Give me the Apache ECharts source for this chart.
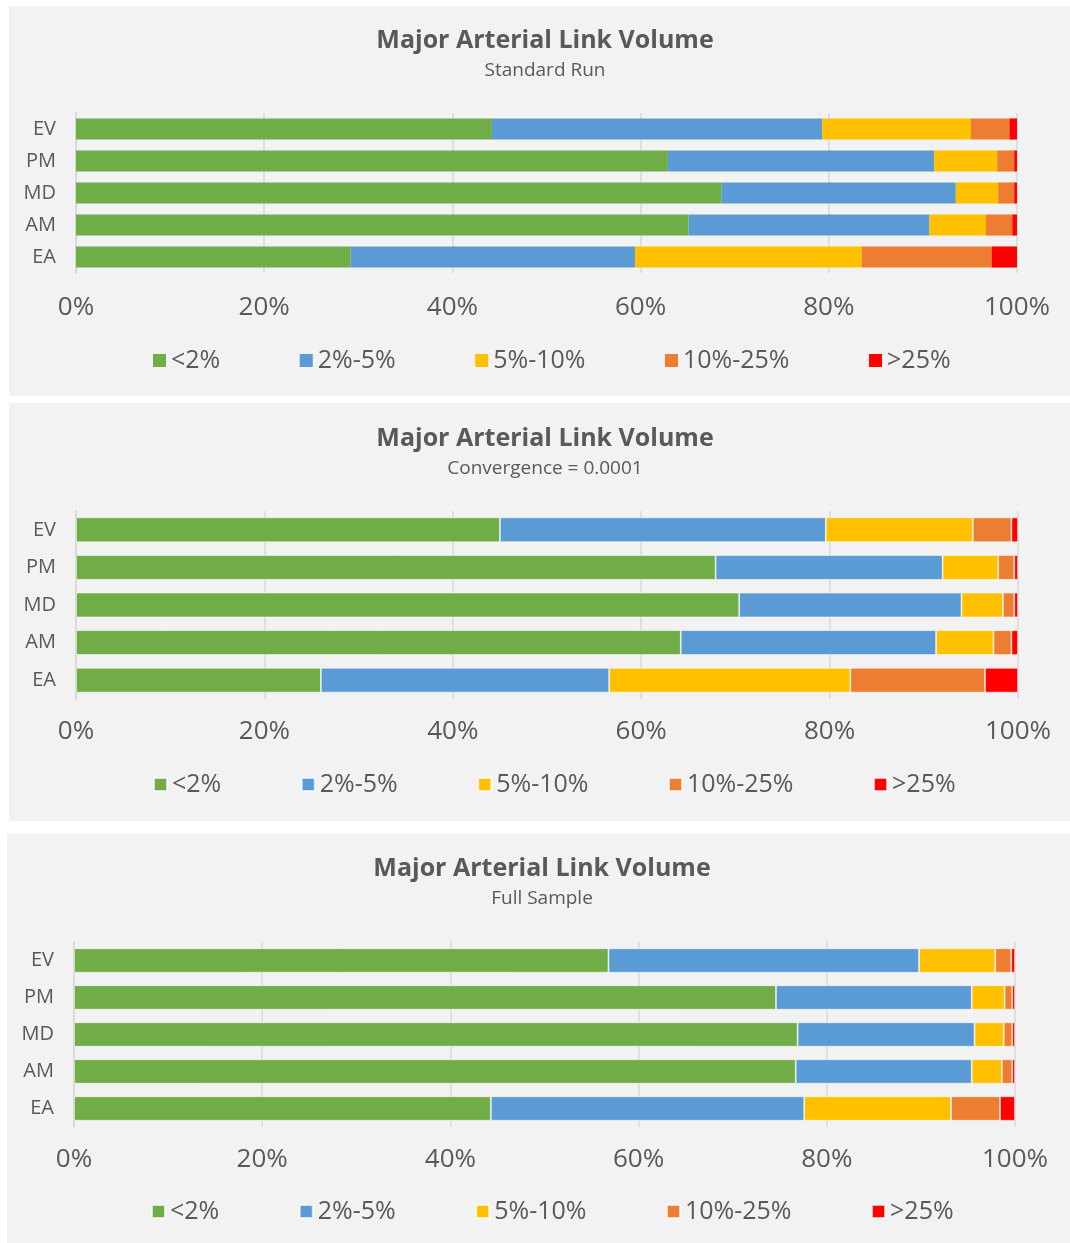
<!DOCTYPE html>
<html>
<head>
<meta charset="utf-8">
<title>Major Arterial Link Volume</title>
<script src="https://cdn.jsdelivr.net/npm/echarts@6/dist/echarts.min.js"></script>
<style>
  html, body { margin: 0; padding: 0; background: #fff; }
  .panel { position: absolute; background: #f2f2f2; }
</style>
</head>
<body>
<div id="std" class="panel" style="left:9px;top:6px;width:1061px;height:390px"></div>
<div id="conv" class="panel" style="left:9px;top:403px;width:1061px;height:418px"></div>
<div id="full" class="panel" style="left:7px;top:834px;width:1063px;height:409px"></div>
<script>
const periods = ['EA', 'AM', 'MD', 'PM', 'EV'];
const bands = ['<2%', '2%-5%', '5%-10%', '10%-25%', '>25%'];
const bandColors = ['#70ad47', '#5b9bd5', '#ffc000', '#ed7d31', '#ff0000'];

// share of links per error band, by period (EA, AM, MD, PM, EV), in percent
// Standard Run
const stdUnder2 = [29.2, 65.1, 68.6, 62.9, 44.2];
const std2to5 = [30.2, 25.6, 24.9, 28.3, 35.1];
const std5to10 = [24.1, 6.0, 4.5, 6.7, 15.8];
const std10to25 = [13.8, 2.8, 1.7, 1.8, 4.1];
const stdOver25 = [2.7, 0.5, 0.3, 0.3, 0.8];

// Convergence = 0.0001
const convUnder2 = [26.0, 64.2, 70.4, 67.9, 45.0];
const conv2to5 = [30.6, 27.1, 23.6, 24.1, 34.6];
const conv5to10 = [25.6, 6.1, 4.4, 5.9, 15.6];
const conv10to25 = [14.3, 1.9, 1.2, 1.7, 4.1];
const convOver25 = [3.5, 0.7, 0.4, 0.4, 0.7];

// Full Sample
const fullUnder2 = [44.3, 76.7, 76.9, 74.6, 56.8];
const full2to5 = [33.3, 18.7, 18.8, 20.8, 33.0];
const full5to10 = [15.6, 3.2, 3.1, 3.5, 8.1];
const full10to25 = [5.2, 1.1, 0.9, 0.8, 1.7];
const fullOver25 = [1.6, 0.3, 0.3, 0.3, 0.4];

const FONT = '"Open Sans", "Noto Sans", sans-serif';
const TEXT = '#595959';

function drawPanel(domId, subtitle, rows, lay) {
    const chart = echarts.init(document.getElementById(domId), null, { renderer: 'canvas' });
    const series = bands.map((name, i) => ({
        name: name,
        type: 'bar',
        stack: 'total',
        barWidth: '66%',
        data: rows[i],
        itemStyle: {
            color: bandColors[i],
            borderColor: lay.border ? 'rgba(255,255,255,0.7)' : undefined,
            borderWidth: lay.border ? 0.8 : 0
        },
        emphasis: { disabled: true }
    }));

    chart.setOption({
        backgroundColor: '#f2f2f2',
        animation: false,
        textStyle: { fontFamily: FONT },
        title: {
            text: 'Major Arterial Link Volume',
            subtext: subtitle,
            left: lay.titleX,
            textAlign: 'center',
            top: lay.titleTop,
            itemGap: 8,
            padding: 0,
            textStyle: { fontFamily: FONT, fontSize: 25, fontWeight: 'bold', color: TEXT },
            subtextStyle: { fontFamily: FONT, fontSize: 19, color: TEXT }
        },
        legend: {
            data: bands,
            left: 144,
            top: lay.legendTop,
            padding: 0,
            icon: 'rect',
            itemWidth: 13,
            itemHeight: 13,
            itemGap: 79.5,
            selectedMode: false,
            textStyle: { fontFamily: FONT, fontSize: 25, color: TEXT }
        },
        grid: {
            left: 67,
            right: lay.right,
            top: lay.gridTop,
            bottom: lay.gridBottom,
            containLabel: false
        },
        xAxis: {
            type: 'value',
            min: 0,
            max: 100,
            interval: 20,
            axisLine: { show: false },
            axisTick: { show: false },
            splitLine: { show: true, lineStyle: { color: '#d9d9d9', width: 1.5 } },
            axisLabel: {
                formatter: '{value}%',
                margin: lay.labelMargin,
                fontFamily: FONT,
                fontSize: 26,
                color: TEXT
            }
        },
        yAxis: {
            type: 'category',
            data: periods,
            axisLine: { show: true, lineStyle: { color: '#d9d9d9', width: 2 } },
            axisTick: { show: false },
            axisLabel: { margin: 20, fontFamily: FONT, fontSize: 20, color: TEXT }
        },
        series: series
    });
}

drawPanel('std', 'Standard Run',
    [stdUnder2, std2to5, std5to10, std10to25, stdOver25],
    { titleX: 536, titleTop: 22, gridTop: 107, gridBottom: 123, right: 53,
      labelMargin: 22, legendTop: 342, border: false });

drawPanel('conv', 'Convergence = 0.0001',
    [convUnder2, conv2to5, conv5to10, conv10to25, convOver25],
    { titleX: 536, titleTop: 23, gridTop: 108, gridBottom: 122, right: 52,
      labelMargin: 20, legendTop: 369, border: true });

drawPanel('full', 'Full Sample',
    [fullUnder2, full2to5, full5to10, full10to25, fullOver25],
    { titleX: 535, titleTop: 22, gridTop: 108, gridBottom: 116, right: 55,
      labelMargin: 20, legendTop: 365, border: true });
</script>
</body>
</html>
